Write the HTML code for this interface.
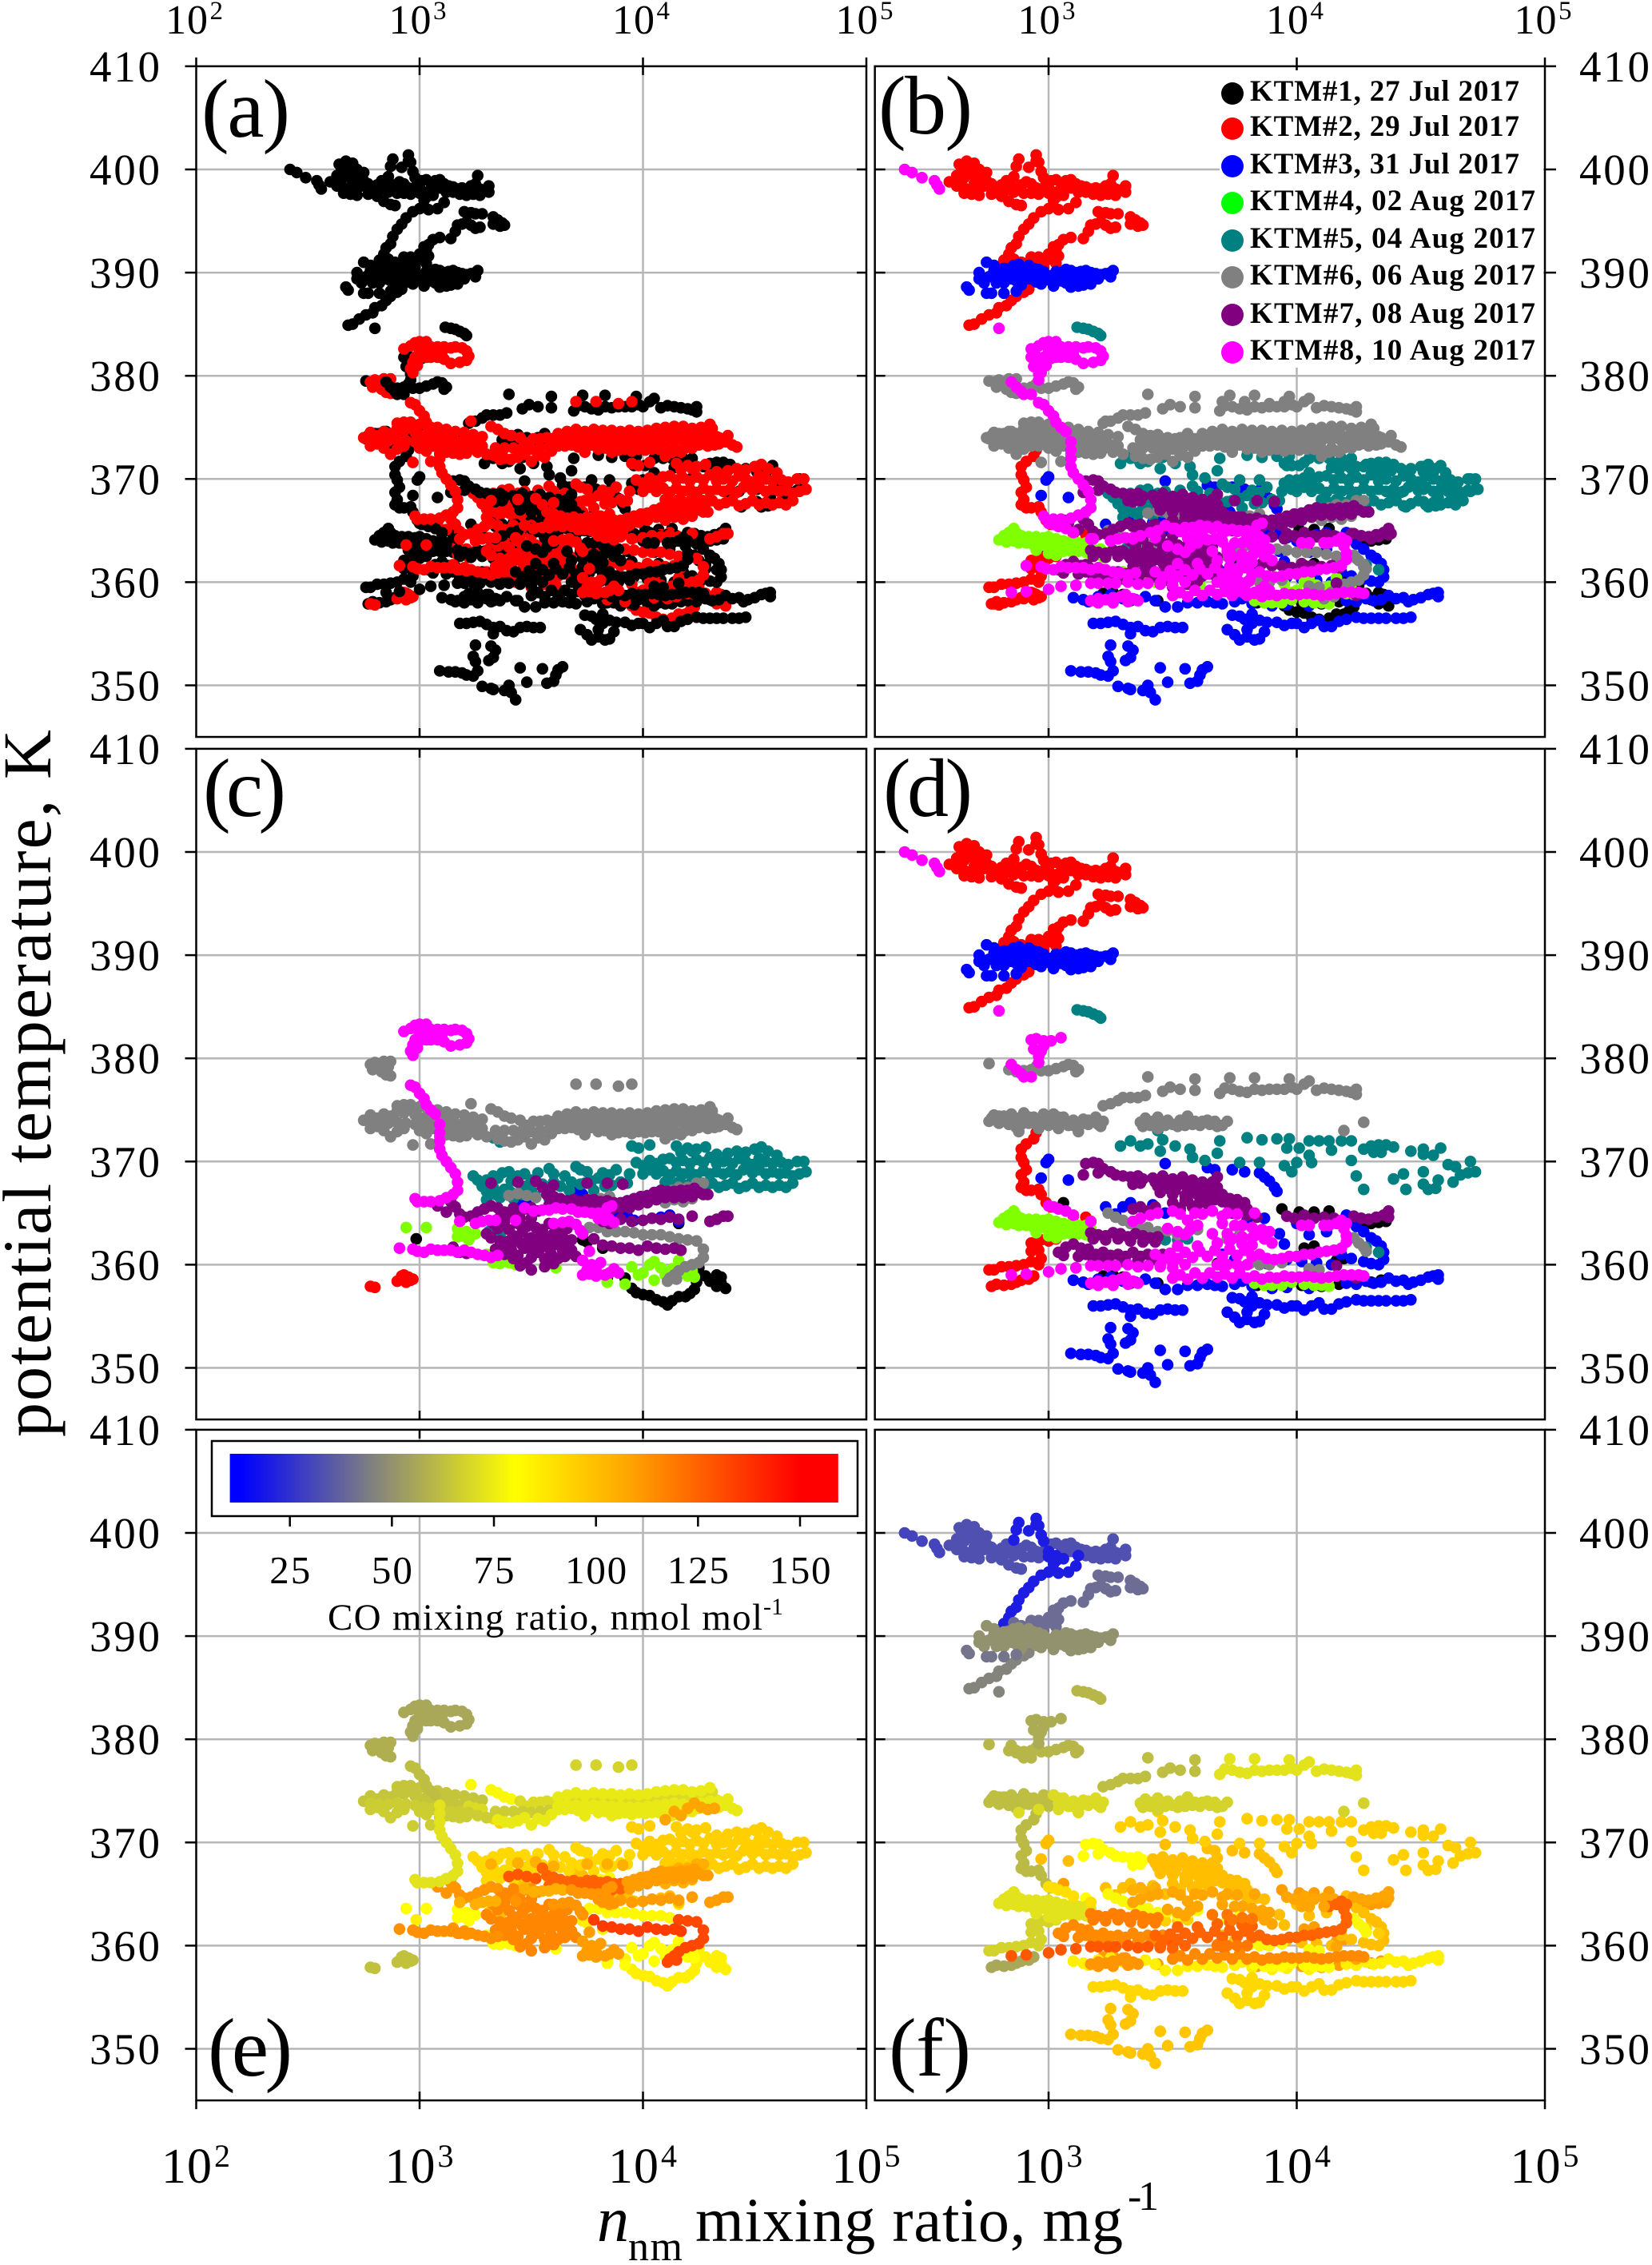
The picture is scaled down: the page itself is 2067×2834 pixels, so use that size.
<!DOCTYPE html>
<html lang="en">
<head>
<meta charset="utf-8">
<title>Nucleation-mode particle mixing ratio versus potential temperature</title>
<style>
html,body{margin:0;padding:0;background:#fff}
svg{display:block;font-family:"Liberation Serif",serif}
</style>
</head>
<body>
<svg id="chart" xmlns="http://www.w3.org/2000/svg" width="2067" height="2834" viewBox="0 0 2067 2834">
<defs><linearGradient id="coGradient" x1="0" x2="1" y1="0" y2="0"></linearGradient></defs>
<rect width="2067" height="2834" fill="#fff"/>
<g id="panels"></g>
<g id="axis-labels"></g>
<text transform="translate(63 1798) rotate(-90)" font-size="86" textLength="885" lengthAdjust="spacing" fill="#000">potential temperature, K</text>
<g fill="#000">
<text x="747" y="2804" font-size="80" font-style="italic" textLength="36">n</text>
<text x="786" y="2828" font-size="52" textLength="68">nm</text>
<text x="870" y="2804" font-size="78" textLength="535">mixing ratio, mg</text>
<text x="1411" y="2765" font-size="52" textLength="39">-1</text>
</g>
<g font-size="104" fill="#000">
<text x="252" y="171" textLength="111">(a)</text>
<text x="1099" y="167" textLength="118">(b)</text>
<text x="254" y="1021" textLength="104">(c)</text>
<text x="1105" y="1021" textLength="112">(d)</text>
<text x="260" y="2597" textLength="106">(e)</text>
<text x="1112" y="2597" textLength="103">(f)</text>
</g>
<g id="legend">
<rect x="1526" y="88" width="405" height="372" fill="#fff"/>
<g font-size="37" font-weight="bold" fill="#000">
<text x="1564" y="126" textLength="337">KTM#1, 27 Jul 2017</text>
<text x="1564" y="170" textLength="337">KTM#2, 29 Jul 2017</text>
<text x="1564" y="217" textLength="337">KTM#3, 31 Jul 2017</text>
<text x="1564" y="263" textLength="357">KTM#4, 02 Aug 2017</text>
<text x="1564" y="310" textLength="357">KTM#5, 04 Aug 2017</text>
<text x="1564" y="356" textLength="357">KTM#6, 06 Aug 2017</text>
<text x="1564" y="404" textLength="357">KTM#7, 08 Aug 2017</text>
<text x="1564" y="450" textLength="357">KTM#8, 10 Aug 2017</text>
</g>
<circle cx="1542" cy="117" r="14" fill="#000"/>
<circle cx="1542" cy="161" r="14" fill="#f00"/>
<circle cx="1542" cy="208" r="14" fill="#00f"/>
<circle cx="1542" cy="254" r="14" fill="#0f0"/>
<circle cx="1542" cy="301" r="14" fill="#008080"/>
<circle cx="1542" cy="347" r="14" fill="#808080"/>
<circle cx="1542" cy="394" r="14" fill="#800080"/>
<circle cx="1542" cy="441" r="14" fill="#f0f"/>
</g>
<g id="colorbar">
<rect x="265" y="1803" width="808" height="94" fill="#fff" stroke="#000" stroke-width="2.5"/>
<rect x="287.6" y="1819" width="761.2" height="61" fill="url(#coGradient)"/>
<g id="colorbar-ticks"></g>
<text x="410" y="2039" font-size="47" textLength="544" fill="#000">CO mixing ratio, nmol mol</text>
<text x="955" y="2020" font-size="30" textLength="25" fill="#000">-1</text>
</g>
</svg>
<script>
/* Axis values */
const thetaTicks = [350,360,370,380,390,400,410];
const xTickExponents = [2,3,4,5];
const coTicks = [25,50,75,100,125,150];
const coStops = [[10.3,0,0,255],[13,0,0,255],[45,128,128,128],[80,255,255,0],[108,255,165,0],[150,255,0,0],[159.3,255,0,0]];
const flightColors = ['#000000','#ff0000','#0000ff','#7fff00','#008080','#808080','#800080','#ff00ff'];

/* Each strand is [CO nmol/mol, [log10(n), theta, log10(n), theta, ...]] */
const groupDFlight1 = [[110,[3.06,366,3.94,365.4,4.01,365.1,4.07,365.1,4.13,365.2,4.24,364,4.27,363.9,4.3,364,4.33,364.1,4.36,364.2,4.03,361.6,4.07,361.8,4.16,360.4,4.19,360.6,3.68,360.1,3.22,358.9,3.26,359,3.3,358.8,3.33,358.2,3.44,358.2,4.34,358.5,4.3,358.3,3.84,358,3.9,358,3.96,357.9,4.02,358,4.1,357.9,4.17,358.1]]];
const groupDFlight2 = [
[33,[2.6,398.8,2.63,399.4,2.64,400.5,2.65,399.9,2.66,399.2,2.67,400.8,2.68,400.1,2.69,399.5,2.7,398.6,2.7,400.6,2.72,400,2.73,399.2,2.74,398.4,2.75,399.7,2.66,397.7,2.69,397.6,2.72,397.5,2.77,397.6,2.75,398.9,2.77,398.6,2.79,398.2,2.81,398.5,2.83,398.9,2.85,398.4,2.87,398.2,2.89,398.5,2.91,398.8,2.93,398.6,2.95,398.2,2.97,398.1,2.99,398.6,3.01,398.9,3.03,399,3.05,398.7,3.07,398.9,3.09,399,3.11,398.6,3.13,398.4,3.15,398.3,3.17,398.1,3.19,398.2,3.21,398.1,3.23,398.4,3.25,398.6,3.26,399.4,3.27,398.1,3.28,398,3.3,398,3.31,397.8,3.31,398.4,2.81,397.4,2.84,396.9,2.87,396.6,2.89,396.5,2.8,397.9,2.83,398,2.86,397.8,2.9,397.7,2.93,397.7,2.96,397.6,3.06,398.1,3.09,398.2,3.12,397.8,3.15,397.8,3.18,397.6,3.21,397.5,3.24,397.6,3.27,397.5,2.72,398.3,2.69,398.1,2.66,398.2,2.63,398.4]],
[20,[2.86,399.3,2.87,400.3,2.88,401,2.92,400.2,2.95,400.8,2.95,401.4,2.96,400.7,2.97,399.8,2.98,399.2,3,398.2,3,397.7,3.03,397.8,3.03,397.3,3.02,397,3,396.2,2.97,395.9,2.94,395.3,2.92,394.7,2.9,394.2,2.88,393.5,2.87,392.8,2.85,392.4,2.84,391.8,2.82,391.2,2.81,390.7,3.04,396.1,3.06,397.5,3.08,396.2,3.11,396.8,3.12,397.8]],
[40,[3.2,395.9,3.23,395.8,3.25,395.7,3.28,395.7,3.33,395.4,3.35,395.1,3.37,394.8,3.38,394.6,3.36,394.5,3.33,394.7,3.17,394.6,3.19,394.7,3.21,394.9,3.23,394.6,3.25,394.3,3.27,394.4,3.16,394,3.14,393.3,3.09,393.4,3.06,393.2,3.04,392.7,3.03,392.2,3.02,391.7,3,391.3,2.98,391.3,2.96,391,2.94,391.2,2.92,391,2.9,390.7,3.04,391.6,3.03,390.9,2.86,391.3,2.89,391,2.93,391.5,2.96,391.5,3,391.8,3.02,392.5,2.98,390.5,2.93,390.5,2.88,390.3,2.84,390.5]],
[46,[2.68,384.9,2.7,385,2.73,385.5,2.76,385.9,2.79,386.1,2.8,386.6,2.83,386.8,2.85,387.3,2.87,387.7,2.9,388.1,2.92,388.4]],
[61,[2.96,373.4,2.95,372.8,2.94,372.2,2.91,371.7,2.89,371.2,2.89,370.4,2.9,369.9,2.91,369.2,2.89,368.7,2.9,368,2.89,367.5,2.91,367.2,2.93,367.2,2.96,367.3,2.97,366.8,2.99,366,3.01,365.6]],
[80,[3.1,364.7,3.15,364.6,3.17,364.2]],
[68,[2.93,362.1,2.95,362.2,2.97,362.4,3,362.3,3.03,362.5,2.93,361.3,2.96,361.4,2.97,360.6,2.96,360,2.93,360.3,2.9,360,2.87,359.9,2.84,359.8,2.81,359.8,2.78,359.5,2.76,359.5]],
[56,[2.77,357.9,2.79,358.1,2.82,358,2.85,358.1,2.87,358.3,2.89,358.5,2.92,358.6,2.94,358.9]]
];
const groupDFlight3 = [
[50,[2.75,391,2.72,390,2.78,390.2,2.81,389.6,2.84,390.4,2.86,390.7,2.88,390.2,2.9,389.8,2.92,390.1,2.94,390.4,2.96,390.3,2.98,390.1,3,389.7,3.03,390.1,3.05,390,3.07,390.3,3.09,390.2,3.11,390,3.13,390.1,3.15,390.2,3.17,390,3.19,389.9,3.21,389.8,3.23,389.9,3.25,390,3.26,390.2,3.25,389.6,2.72,389.4,2.74,389,2.76,389.6,2.79,389,2.82,389,2.85,389.4,2.87,389.2,2.89,388.8,2.92,389.4,2.95,389.1,2.97,388.9,3,389.3,3.02,388.7,3.05,389.2,3.07,389,3.09,388.6,3.12,388.7,3.14,388.8,3.17,388.9,2.8,389.4,2.83,389.8,2.87,389.9,2.9,389.4,2.93,389.7,2.96,389.7,2.99,389.6,3.02,389.5,3.05,389.6,3.08,389.6,3.11,389.4,3.14,389.4,3.17,389.4,3.2,389.4,2.78,390.7,2.82,390.4,2.88,390.8,2.92,390.7]],
[42,[2.67,388.6,2.68,388.3,2.75,388,2.77,388,2.82,388,2.87,388.2]],
[100,[3,370.2,2.99,369.9,2.97,368.4,3.08,368.2,3.47,369.8,3.64,369.4,3.67,369.2,3.74,369.2,3.79,369,3.85,368.9,3.87,368.5,3.89,368.1,3.91,367.5,3.92,367.1]],
[100,[3.23,365.6,3.3,365.6,3.33,366,3.42,365.8,3.47,365,3.27,364.9,3.53,365.3,3.6,363.8,3.8,364.3,3.87,364.5,3.93,363,3.95,362,4,364,4.05,362.9,4.12,363.2,4.2,364.8,4.24,363.7,4.27,363.2,4.3,362.6,4.32,362.3,4.34,361.8,4.35,361.2,4.35,360.5,4.33,360,4.3,360.1,4.27,360.3,4.22,360.6,4.18,361,4.14,360,4.08,360.2,4.02,360.3,3.96,360.5,3.88,360.1,3.8,360,3.75,360.5,3.7,361]],
[85,[3.1,358.5,3.14,358.3,3.16,358.1,3.2,358.6,3.25,358.8,3.3,358.4,3.35,358.3,3.39,358.6,3.43,358.2,3.47,357.6,3.52,357.6,3.56,358,3.6,358,3.64,358.1,3.67,358,3.7,357.9,3.75,358.1,3.78,358.4,3.82,357.9,3.9,357.7,3.96,357.8,4.05,357.7,4.12,358,4.2,358.2,4.24,358.1,4.28,358.4,4.31,358.2,4.34,358.3,4.37,358.7,4.4,358.4,4.43,358.5,4.45,358.1,4.47,358.3,4.5,358.5,4.53,358.8,4.55,358.9,4.57,359,4.57,358.6]],
[92,[3.18,356,3.21,356,3.24,356.1,3.27,356.2,3.3,355.9,3.33,355.6,3.33,355,3.36,355.7,3.39,355.3,3.42,355.2,3.45,355.6,3.48,355.7,3.51,355.6,3.54,355.6,3.72,355.4,3.75,354.9,3.77,354.4,3.8,354.7,3.83,354.4,3.85,354.5,3.8,355.4,3.82,356,3.79,356.4,3.77,356.7,3.74,356.8,3.82,356.9,3.85,356.3,3.88,356.1,3.92,356.1,3.95,355.8,3.98,356,4,356,4.03,355.6,4.06,356,4.09,356.3,4.11,355.7,4.14,355.7,4.17,356.2,4.2,356.4,4.24,356.6,4.27,356.5,4.3,356.5,4.33,356.5,4.36,356.5,4.4,356.5,4.43,356.5,4.46,356.6,3.87,355.2]],
[98,[3.09,351.4,3.13,351.3,3.16,351.3,3.19,351.2,3.21,351,3.24,350.9,3.26,351.4,3.25,352.3,3.24,352.8,3.25,353.9,3.32,353.8,3.34,353.4,3.33,352.7,3.31,352.4,3.28,349.9,3.32,349.7,3.33,349.6,3.38,349.5,3.4,350,3.41,349.3,3.43,348.6,3.45,351.7,3.48,350.3,3.55,351.6,3.57,350.2,3.6,350.4,3.61,351,3.62,351.5,3.64,351.8]]
];
const groupDFlight4 = [
[72,[2.8,364.1,2.82,364.5,2.84,364.8,2.86,365.2,2.87,364.8,2.83,363.9,2.86,364,2.89,364.5,2.92,364.4,2.95,364.4,2.98,364.3,3,364.4,3.03,364.2,3.06,364,3.09,363.9,3.12,363.8,3.15,363.8,3.17,363.5,2.88,363.8,2.91,363.8,2.94,363.6,2.97,363.6,3,363.5,3.03,363.2,3.06,363,3.09,363,3.12,363,3.15,362.9,3.17,362.7,2.95,363.1,3,362.8,3.03,362.6,2.9,364.1,2.96,364,3.02,363.8,3.08,363.5,3.14,363.3]],
[80,[3.83,358.2,3.87,358,3.9,358,3.94,358,3.98,358.3,4.03,358.1,4.07,358,4.1,358,4.13,357.9]]
];
const groupDFlight5 = [
[60,[3.115,384.7,3.14,384.6,3.16,384.5,3.18,384.3,3.2,384.1,3.21,383.9]],
[95,[3.29,371.5,3.33,372,3.37,371.5,3.4,371.7,3.44,373,3.46,372.1,3.45,371,3.51,371.5,3.57,371.2,3.58,370.4,3.63,370.1,3.69,372,3.68,370.8,3.8,372.3,3.86,372.1,3.92,372.2,3.97,372.2,3.96,371.3,4.01,371.3,4.05,370.6,4,369.9,4.06,369.9,4.05,372,4.09,372,4.13,372,4.18,372,4.22,372,4.14,371.1,4.22,370.1,4.27,371.2,4.3,371.5,4.33,371.6,4.36,371.6,4.39,371.4,4.31,370.9,4.34,370.9,4.46,371,4.51,371.2,4.58,371.3,4.51,370.7,4.55,370.6,4.61,369.7,4.64,369.5,4.7,370,4.72,369,4.69,368.9,4.66,368.7,4.63,368,4.51,369,4.51,367.8,4.53,367.3,4.57,368.2,4.56,367.4,4.39,368.3,4.43,368.8,4.44,367.3,4.24,368.6,4.27,367.3,3.77,369.9,3.85,369.9,3.95,369.6,3.98,369]],
[95,[3.43,362.6,3.47,362.4,3.52,362.4,3.56,362.5,4.33,361.2,4.28,361.7]]
];
const groupDFlight6 = [
[60,[2.76,379.5,2.84,378.9,2.87,378.7,2.9,378.8,2.93,378.9,2.95,379.2,2.97,378.8,3,378.8,3.03,379,3.06,379.2,3.08,379.4,3.1,379.3,3.12,378.9,3.11,378.7]],
[62,[3.22,375.4,3.25,375.6,3.28,375.9,3.3,376.2,3.33,376.2,3.36,376.2,3.39,376.4,3.4,378.2,3.46,376.8,3.49,377.2,3.53,377,3.59,378,3.59,376.9]],
[72,[3.69,376.6,3.71,377.1,3.73,378.1,3.74,377,3.77,376.8,3.8,376.7,3.83,378.1,3.83,377,3.86,376.9,3.89,377,3.92,377,3.95,377,3.97,378,3.98,377.2,4,377,4.03,377.5,4.05,377.8,4.08,376.9,4.11,377.1,4.14,377,4.17,376.9,4.2,376.8,4.22,376.7,4.24,377,4.24,376.5]],
[62,[2.76,373.9,2.78,374.5,2.8,373.7,2.82,374.4,2.84,373.6,2.85,374.6,2.87,373.3,2.88,374.2,2.9,374.7,2.92,373.7,2.94,374.3,2.96,373.9,2.98,374.6,3,373.5,2.77,374.2,2.8,374.4,2.83,374,2.86,374,2.89,373.6,2.92,374.3,2.95,373.6,2.98,374,3.01,374]],
[70,[3.02,374.6,3.04,373.8,3.06,374.3,3.08,373.5,3.1,374,3.12,373.3,3.14,374.1,3.16,373.6,3.18,374,3.2,373.6,3.22,373.9,2.88,372.9,2.96,373.2,3.04,373.2,3.12,372.9,3.04,374.3,3.07,373.8,3.1,373.5,3.13,373.6,3.16,374,3.19,374.3,3.21,373.4]],
[68,[3.37,373.8,3.39,374.2,3.42,373.9,3.44,374.3,3.47,373.5,3.5,373.6,3.53,374,3.56,374.4,3.59,373.9,3.62,373.9,3.65,373.6,3.68,373.4,3.72,373.9,3.44,373.2,4.19,373,4.27,373.8,3.38,373.4,3.41,373.5,3.45,373.8,3.48,374,3.52,373.4,3.55,373.5,3.58,373.6,3.61,373.5,3.64,374,3.67,373.9,3.7,373.5]],
[78,[3.24,365,3.27,364.6,3.3,364.3,3.33,364,3.36,363.7,3.4,363.6,3.44,363.2,3.48,363.3,3.52,362.9,3.56,363.1,3.6,363.4,3.77,362.9,3.72,362.5,3.81,360.1,3.85,360,3.89,360,3.94,360.2,4.05,359.6,4.09,359.5,4.23,362.6,4.25,362.1,4.27,361.7,4.28,361.3]]
];
const groupDFlight7 = [
[80,[3.15,369.8,3.18,369.9,3.2,369.8,3.22,369.3,3.25,369,3.27,368.7,3.3,368.6,3.33,368.5,3.36,368.6,3.38,368.3,3.37,367.9,3.34,367.8,3.14,368.7,3.2,368.9]],
[100,[3.42,368.4,3.44,367.6,3.46,368.6,3.48,367.4,3.5,368.3,3.52,367.7,3.54,368.5,3.56,367.2,3.58,368.2,3.6,367.6,3.62,368,3.64,367.5,3.66,368,3.68,368.5,3.68,367.5,3.45,367,3.5,366.8,3.55,366.7,3.6,366.8,3.65,367,3.5,366,3.53,365.5,3.56,366.2,3.6,365.8,3.64,365.9,3.67,366.3,3.7,366.1,3.73,365.7,3.76,365.6,3.79,366,3.8,365.4,3.8,364.8,3.74,365,3.84,364.6,3.43,368,3.45,368.2,3.47,367.9,3.49,367.9,3.51,367.2,3.53,368,3.55,368.1,3.57,367.7,3.59,367,3.61,367.2,3.63,367.1,3.65,367.6,3.67,367.2,3.55,366.2,3.58,365.6,3.62,366.2,3.66,366.6,3.7,366.8,3.73,366.4,3.76,366.3]],
[105,[3.34,365.4,3.37,365.6,3.4,365.2,3.43,365.6]],
[118,[3.17,363.1,3.2,362.9,3.23,362.8,3.26,363.1,3.29,363,3.32,362.7,3.35,363,3.38,362.8,3.41,362.6,3.44,362.7,3.18,362.5,3.23,362.4,3.28,362.5,3.33,362.3,3.38,362.2,3.43,362.2]],
[115,[3.04,361.2,3.07,361.7,3.1,362,3.13,361.6,3.16,361.5,3.19,361,3.22,361.2,3.25,360.9,3.28,361,3.31,360.8,3.34,361.2,3.37,360.8,3.4,361,3.43,360.9,3.46,361,3.06,360.9,3.12,360.8,3.18,360.4,3.24,360.4,3.3,360.3,3.36,360.4,3.42,360.5,3.15,361,3.22,360.6]],
[108,[3.96,364.7,3.99,364.5,4.03,364.8,4.07,364.5,4.11,364.6,4.15,364.5,4.23,364.7,4.26,364.5,4.29,364.4,4.32,364.6,4.35,364.8,4.37,365.2,4.37,364.6,4.16,359.9,4.24,358.7]]
];
const groupDFlight8 = [
[30,[2.42,400,2.45,399.7,2.49,399.2,2.54,398.9,2.55,398.5,2.56,398.1]],
[46,[2.8,384.6]],
[57,[2.93,381.8,2.95,381.9,2.98,381.7,3.01,381.7,3.05,382,2.94,380.9,2.97,380.7,2.98,381.2,2.96,380.2,2.96,379.6]],
[60,[2.85,379.4,2.87,378.9,2.89,378.5,2.9,378.2,2.93,378.2]],
[90,[3,365.7,3.02,365.6,3.04,365.4,3.07,365.2,3.1,364.8,3.17,364.2]],
[128,[2.85,359,2.91,359.1,3,359.3,3.05,359.6,3.11,359.7,3.17,359.9,3.2,359.9,3.24,359.9,3.27,359.9,3.32,360,3.36,359.8,3.4,359.9,3.45,359.9,3.5,360.2]],
[112,[3.17,358.2,3.2,358.4,3.23,358.3,3.26,358.5,3.29,358.6,3.31,358.8,3.34,358.4,3.36,358.2,3.2,358,3.26,358,3.32,358.1]],
[125,[3.43,361,3.46,360.5,3.49,361.1,3.52,360.6,3.55,361.2,3.58,360.7,3.61,361.3,3.64,360.8,3.67,361.4,3.7,360.8,3.73,361.5,3.76,360.9,3.79,361.4,3.82,360.8,3.85,361,3.88,360.6,3.91,360.5,3.94,360.6,3.97,360.8,4,360.8,4.03,361,4.06,361,4.09,361.2,4.12,361.3,4.15,361.4,4.18,361.6,4.2,362.2,4.2,362.8,4.19,363.5,4.2,364,4.18,364.3,4.16,364,4.13,363.8,3.52,361.8,3.6,361.8,3.68,362.1,3.73,362.3,3.78,362,3.82,361.9,3.45,359.8,3.5,359.7,3.55,360]],
[115,[3.5,358.7,3.53,359,3.56,358.6,3.59,359.2,3.62,358.7,3.65,359.2,3.68,358.8,3.71,359.1,3.74,358.7,3.77,359.2,3.8,358.7,3.83,358.9,3.86,358.6,3.89,358.8,3.92,358.7,3.95,358.9,3.98,358.8,4.01,358.8,4.04,358.9,4.07,358.8,4.1,358.7,4.13,358.8,4.16,358.9,4.19,359,4.22,359,4.25,359,4.27,358.9]],
[108,[3.34,364.2,3.37,364.5,3.41,364.8,3.44,365,3.5,365.2,3.53,364.9,3.56,364.3,3.59,365,3.62,364.9,3.66,365.2,3.7,364.7,3.72,365,3.76,364.9,3.83,365,3.52,363.2,3.55,362.9,3.57,363.4,3.48,363.5,3.6,363.8,3.7,364,3.75,363.8,3.78,363.8,3.82,363.6,3.86,363.4,3.89,363.2,3.83,362.8,3.87,362.5,3.9,362.1,4.02,363.8,4.05,363.8,4.11,363.8]],
[120,[3.68,360,3.72,360,3.76,360,3.8,360,3.7,359.9,3.74,362.5,3.78,362.7,3.82,362.6,3.72,363,3.66,363]]
];

const groupCFlight1 = [[85,[2.985,362.5,3.73,362.4,3.75,362.2,3.82,361.6,3.84,358.7,3.92,358.7,3.95,357.7,3.97,357.3,4,357.1,4.03,357,4.06,356.6,4.09,356.4,4.11,356.1,4.13,356.5,4.16,356.9,4.19,356.9,4.21,357.2,4.23,357.6,4.24,358.3,4.25,359,4.25,359.7,4.28,358.9,4.31,358.5,4.33,359,4.35,358.8,4.35,358.2,4.37,357.7,4.33,357.9,4.3,358.4,4.16,364]]];
const groupCFlight2 = [[63,[2.78,357.9,2.8,357.8,2.9,358.4,2.92,358.9,2.93,359,2.95,358.8,2.96,358.5,2.97,358.6,2.94,358.3]]];
const groupCFlight3 = [[100,[3.45,366,3.47,365.5,3.49,365.7,3.7,367,3.73,366.8,3.88,364.8,3.93,364.7,3.96,364.3,4.08,364.6,4.12,364.8,4.16,364.2]]];
const groupCFlight4 = [[80,[2.94,363.6,3.03,363.6,3.17,363.5,3.19,362.8,3.21,363.2,3.17,362.7,3.22,362.4,3.25,363,3.3,361,3.33,360.2,3.36,360.1,3.4,360.2,3.43,360,3.46,360.1,3.56,359.9,3.61,359.7,3.84,358.3,3.92,358.1,3.95,359.8,3.98,359,4,359.2,4.03,360,4.05,360.3,4.08,359.7,4.1,359,4.13,359.6,4.16,360.4,4.18,359.3,4.2,358.9,4.22,359.4,4.23,358.8,4.05,358.5]]];
const groupCFlight5 = [
[95,[3.33,372.3,3.36,371.9,3.95,371.5,3.98,371.3,4.03,371.6,4.15,371.5,4.2,371.3,4.24,371.2,4.17,370.9,4.22,371,4.28,371.4,4.33,370.7,4.38,370.8,4.42,371,4.46,370.9,4.5,371.2,4.53,371.4,4.56,371,4.6,370.6,3.97,369.9,4,369.6,4.03,370.1,4.06,369.8,4.09,370.2,4.12,370.3,4.15,369.9,4.18,370.1,4.21,369.8,4.24,370.2,4.27,369.9,4.3,370.4,4.33,369.8,4.36,370,4.4,369.8,4.43,370.3,4.46,370,4.49,369.7,4.52,370.3,4.55,370,4.58,369.8,4.62,369.9,4.65,369.7,4.69,370,4.72,370,4,368.8,4.03,369.2,4.06,368.8,4.09,369.1,4.12,368.7,4.15,369.1,4.18,368.8,4.21,369,4.24,368.7,4.27,369.1,4.3,368.8,4.33,369,4.36,368.8,4.39,369,4.42,368.7,4.45,369.2,4.49,368.9,4.52,369.2,4.55,368.8,4.58,369,4.61,368.8,4.64,368.9,4.67,368.6,4.7,368.8,4.73,369,4.1,368,4.13,367.7,4.16,368,4.19,367.7,4.22,368.1,4.25,367.7,4.28,367.6,4.31,367.9,4.34,367.5,4.37,367.7,4.4,367.9,4.43,367.4,4.46,367.6,4.49,367.9,4.52,367.5,4.55,367.7,4.58,367.5,4.61,367.7,4.64,367.5,4.67,367.9]],
[92,[3.24,368.6,3.26,368.2,3.28,367.6,3.3,367.1,3.33,367.5,3.35,368.4,3.37,368.9,3.38,367.3,3.41,368.1,3.41,367,3.44,368.6,3.47,367.6,3.5,368.2,3.53,368.9,3.55,367.8,3.58,369.3,3.6,368,3.63,367.6,3.65,368.6,3.68,368,3.7,369.5,3.72,369.2,3.75,369,3.74,367.9,3.77,368.1,3.8,368.4,3.83,367.6,3.85,368.7,3.88,369.2,3.9,368,3.93,367.9,3.36,366.5,3.3,366.3,3.3,368.2,3.33,368.6,3.4,369,3.47,368.8,3.5,367.2,3.57,367.2,3.6,368.8,3.67,367.2,3.72,367.8,3.78,367.2,3.82,368.9,3.86,367.7,3.94,368.8,3.34,366.8,3.42,366.4,3.46,366.8,3.52,366.6,3.58,366.4]],
[100,[3.31,363.2,3.34,363.5,3.36,362.8]]
];
const groupCFlight6 = [
[58,[2.78,379.4,2.8,379.6,2.82,379.2,2.84,379.7,2.86,379.2,2.87,379.7,2.79,378.9,2.83,378.7,2.85,378.4,2.87,378.3]],
[68,[3.7,377.5,3.79,377.5,3.89,377.3,3.95,377.5]],
[78,[3.23,375.6,3.32,375.1,3.35,374.8,3.38,374.4,3.41,374.2]],
[64,[2.75,374,2.78,374.5,2.81,374.2,2.84,374.6,2.87,374.4,2.9,374.9,2.93,374.7,2.96,375,2.98,374.5,3.01,374.2,3.04,373.9,3.07,373.9,3.1,374.6,3.13,373.8,3.16,373.7,3.19,373.6,2.9,375.4,2.93,375.5,2.96,375.5,3,375.3,3.04,374.9,3.08,375,3.12,374.8,3.16,374.6,3.2,374.5,3.24,374.3,3.28,374.1]],
[70,[3.22,373.5,3.25,373.3,3.28,373.2,3.45,374,3.48,373.5,3.51,373.9,3.54,373.9,3.57,374,3.6,373.9,3.63,373.8,3.66,374,3.69,374.1,3.72,374,3.75,374.1,3.78,374.2,3.81,374.1,3.84,374.1,3.87,374,3.9,374,3.93,374.1,3.96,373.9,3.99,373.9,4.02,374.1,4.05,374.3,4.08,374.3,4.11,374.4,4.14,374.6,4.17,374.5,4.2,374.1,4.23,374.2,4.26,374.4,4.29,374.5,4.31,374.9,4.33,374.1]],
[66,[2.78,373.2,2.81,373.4,2.84,373,2.87,372.4,2.9,372.9,2.93,373.2,2.97,371.6,3.05,371.7,3,373,3.03,372.7,3.06,373.2,3.09,372.4,3.12,372.6,3.15,372.5,3.18,372.4,3.21,372.5,2.78,373.8,2.82,373.7,2.86,373.7,2.9,373.8,2.94,373.7,2.98,373.6,3.02,373.4,3.06,373.3,3.1,373.2,3.14,373,3.18,373,3.22,372.9,3.26,372.6,3.3,372.4,3.34,373,3.38,373,3.42,373,3.46,373,3.5,372.9,3.54,373,3.58,373.1]],
[74,[3.35,372.2,3.38,372,3.41,371.9,3.44,372.1,3.47,372.4,3.5,371.7,3.53,372.3,3.56,372.1,3.59,372.7,3.62,373.2,3.65,373.2,3.68,373.3,3.71,373.1,3.74,372.6,3.77,373.3,3.8,372.9,3.83,373,3.86,372.6,3.89,372.8,3.92,372.9,3.95,372.7,3.98,372.9,4.01,372.8,4.04,372.9,4.07,372.9,4.1,372.9,4.13,372.6,4.16,372.7,4.19,373,4.22,373,4.25,373.3,4.28,373.6,4.31,373.5,4.34,373.4,4.37,373.6,4.4,373.3,4.42,373.1,3.62,374.4,3.66,374.6,3.7,374.8,3.74,374.6,3.78,374.8,3.82,374.7,3.86,374.7,3.9,374.6,3.94,374.7,3.98,374.6,4.02,374.7,4.06,374.9,4.1,375,4.14,375.1,4.18,375.1,4.22,374.9,4.26,375,4.3,375.3,3.62,373.5,3.66,373.6,3.7,373.6,3.74,373.6,3.78,373.6,3.82,373.6,3.86,373.5,3.9,373.5,3.94,373.4,3.98,373.4,4.02,373.5,4.06,373.6,4.1,373.7,4.14,373.8,4.18,373.7,4.22,373.6,4.26,373.8,4.3,374,4.34,374,4.38,374.2]],
[108,[4.1,372.2,4.14,373,4.17,372.6,4.2,373.3,4.23,373.8,4.26,373.4,4.29,373.2,4.32,373.3]],
[128,[3.4,366.7,3.44,366.9,3.48,366.7,3.52,366.5]],
[82,[3.76,363.6,3.8,363.6,3.84,363.2,3.88,363.2,3.92,363.2,3.96,363.1,4,362.9,4.04,362.9,4.08,362.9,4.12,362.7,3.85,366.6,3.81,366.4]],
[132,[4.16,362.5,4.2,362.4,4.24,362.3,4.27,361.5,4.27,360.7,4.25,360.2,4.22,360,4.19,359.8,4.16,359.4,4.14,359,4.12,358.7,4.11,358.4,4.15,358.6]],
[105,[4.13,367.2,4.16,367.5,4.2,367.5,4.24,367.9,4.27,367.9,4.1,366,4.14,366.3,4.18,366.1,4.22,366.4]]
];
const groupCFlight7 = [
[112,[3.08,365.7,3.12,365.1,3.18,364.9,3.2,364.6,3.23,364.7,3.26,365.1,3.29,365.4,3.32,365.7,3.35,365.5,3.38,365.1,3.41,364.8,3.44,365,3.47,365.4,3.5,365.5,3.53,365.2]],
[116,[3.3,363,3.32,362.6,3.35,363.5,3.36,362.3,3.38,364.2,3.4,363.4,3.42,362.8,3.44,364,3.46,363.2,3.48,362.2,3.5,364.5,3.52,363.6,3.54,362.7,3.56,361.8,3.58,364,3.6,363,3.62,362.3,3.64,361.4,3.66,363.5,3.68,362.4,3.41,361.5,3.44,360.9,3.47,361.6,3.5,360.7,3.53,361.2,3.56,360.6,3.59,361,3.62,360.6,3.65,360.8,3.45,359.9,3.5,359.5,3.33,364,3.36,364.6,3.39,365,3.42,365.5,3.45,364.5,3.48,363.7,3.5,362.6,3.52,362,3.55,363.4,3.58,362.7,3.6,361.9,3.62,363.6,3.64,362.7,3.66,362.2,3.66,361,3.68,361.4,3.7,360.8,3.38,361.9,3.34,361.5,3.4,362.3,3.44,362.3,3.46,361.9,3.5,361.5,3.54,361.6,3.58,361.6,3.56,359.8,3.6,360.1,3.48,360.2,3.42,360.6,3.38,361]],
[105,[3.32,367.9,3.44,368,3.52,368.1,3.6,367.7,3.75,367.9,3.84,367.9,3.91,367.8]],
[125,[3.55,367.5,3.57,366.8,3.6,366.6,3.63,366.4,3.66,366.2,3.69,366.3,3.72,366.1,3.75,366.3,3.78,366.3,3.81,366.1,3.84,366.2,3.87,366,3.9,366,3.58,365.8,3.62,365.6,3.66,365.8,3.7,365.7,3.74,365.7,3.78,365.7,3.82,365.5,3.86,365.4,3.9,365.5]],
[110,[3.93,366.2,3.96,366.4,3.99,366.6,4.02,366.7,4.05,367,4.08,367.2,4.11,367.1,4.14,367.1,4.17,367.2,4.2,367.2,4.23,367.4,4.25,367,4.27,366.8,4.29,366.8,3.94,365.5,3.98,365.8,4.02,366,4.06,366.3,4.1,366.5,4.14,366.5,4.18,366.5,4.22,366.6]],
[110,[3.82,364.2,3.85,364,3.9,364.4,3.95,364.2,4,364.3,4.04,364.5,4.08,364.4,4.12,364.6,4.16,364.4,4.22,364.7,4.3,364.2,4.33,364.4,4.36,364.7,4.38,364.7]],
[112,[3.15,361.7,3.18,361.2,3.21,361.1,3.14,366.1,3.16,365.6]],
[135,[3.73,363,3.78,362.5,3.82,361.9,3.86,361.8,3.9,361.6,3.94,361.6,3.98,361.4,4.02,361.8,4.06,361.6,4.1,361.5,4.14,361.6,4.17,361.4]]
];
const groupCFlight8 = [
[56,[2.93,382.6,2.96,382.9,2.98,383.2,3,383.3,3.03,383.3,3.05,382.8,3.08,382.8,3.11,382.8,3.14,382.7,3.16,382.8,3.19,382.7,3.21,382.4,3.22,381.9,3.21,381.5,3.18,381.3,3.14,381.2,3.11,381.6,3.08,381.8,3.05,381.8,3.03,381.8,3,381.7,2.98,381.8,2.97,381.3,2.96,380.7,2.97,380.3,2.99,381,3.02,382.4,3.06,382.3,3.1,382.3,3,382.4]],
[62,[2.96,377.4,2.98,377.2,3,376.6,3.02,376.1,3.03,375.5,3.05,375,3.07,374.6]],
[72,[3.09,373.6,3.09,372.8,3.09,372,3.09,371.2,3.1,370.6,3.12,370,3.14,369.4,3.16,368.8,3.17,368,3.17,367.2,3.15,366.8,3.12,366.5,3.09,366.2,3.05,366.1,3.02,366.1,2.99,366.1,2.98,366.4]],
[105,[3.18,364.2,3.25,364,3.28,364.2,3.31,364.3,3.34,364.3,3.47,365.5,3.51,365.2,3.55,365.3,3.58,365.3,3.61,365.5,3.64,365.4]],
[112,[3.68,365.4,3.71,365.1,3.74,365.1,3.77,365,3.8,365,3.83,365,3.85,364.4,3.84,365.5,3.86,365.7,3.87,364.1,3.6,364,3.64,364.1,3.67,364.2,3.7,363.9,3.72,363.3,3.73,363,3.43,364.3,3.8,364.5,3.83,364.3]],
[113,[2.91,361.6,2.97,361.5,2.99,361.3,3.02,361.2,3.05,361.5,3.08,361.4,3.11,361.4,3.14,361.4,3.17,361.2,3.2,361.4,3.23,361.2,3.26,361,3.29,360.9,3.32,360.7,3.35,360.9]],
[110,[3.73,360.4,3.76,361.3,3.77,360,3.75,359.5,3.73,359,3.76,359.1,3.79,359.4,3.81,360.2,3.83,359,3.85,359.2,3.87,359.6,3.89,359.2,3.79,358.9]]
];

const groupC = [groupCFlight1,groupCFlight2,groupCFlight3,groupCFlight4,groupCFlight5,groupCFlight6,groupCFlight7,groupCFlight8];
const groupD = [groupDFlight1,groupDFlight2,groupDFlight3,groupDFlight4,groupDFlight5,groupDFlight6,groupDFlight7,groupDFlight8];

const NS = 'http://www.w3.org/2000/svg';
const columns = {left:{origin:525,decade:279.5,exponents:[2,3,4,5]},right:{origin:1312,decade:310.5,exponents:[3,4,5]}};
const rows = [{y400:212},{y400:1066},{y400:1918}];
const KELVIN_PX = 12.91;
const xScale = (col,logN) => col.origin + col.decade*(logN-3);
const yScale = (row,theta) => row.y400 + (400-theta)*KELVIN_PX;
const coScale = v => 362.7 + (v-25)*5.1064;

function coColor(v){
  let i = 0;
  while(i < coStops.length-2 && v > coStops[i+1][0]) i++;
  const a = coStops[i], b = coStops[i+1];
  const t = Math.max(0,Math.min(1,(v-a[0])/(b[0]-a[0])));
  const c = [1,2,3].map(k => Math.round(a[k]+(b[k]-a[k])*t));
  return 'rgb('+c.join(',')+')';
}
function make(parent,tag,attrs){
  const el = document.createElementNS(NS,tag);
  for(const k in attrs) el.setAttribute(k,attrs[k]);
  parent.appendChild(el);
  return el;
}
function line(parent,name,x1,y1,x2,y2,stroke,w){
  const el = make(parent,'line',{x1,y1,x2,y2,stroke,'stroke-width':w});
  
  
  return el;
}
function label(parent,name,txt,x,y,size,len){
  const el = make(parent,'text',{x,y,'font-size':size,textLength:len,fill:'#000'});
  
  
  el.textContent = txt;
  return el;
}

/* colour ramp */
const gradient = document.getElementById('coGradient');
coStops.forEach(s => {
  make(gradient,'stop',{offset:(s[0]-10.3)/149,'stop-color':'rgb('+s[1]+','+s[2]+','+s[3]+')'});
});

function drawStrands(parent,col,row,strands,flightIndex,colorOf){
  strands.forEach(strand => {
    const co = strand[0], pts = strand[1];
    for(let i=0;i+1<pts.length;i+=2){
      const dot = make(parent,'circle',{cx:xScale(col,pts[i]).toFixed(1),cy:yScale(row,pts[i+1]).toFixed(1),r:7.3,fill:colorOf(flightIndex,co)});
      
      
    }
  });
}

const panelSpecs = [
 {name:'panel-a',col:columns.left,row:rows[0],layers:[[groupD,()=>'#000000'],[groupC,()=>'#ff0000']]},
 {name:'panel-b',col:columns.right,row:rows[0],layers:[[groupD,f=>flightColors[f]],[groupC,f=>flightColors[f]]]},
 {name:'panel-c',col:columns.left,row:rows[1],layers:[[groupC,f=>flightColors[f]]]},
 {name:'panel-d',col:columns.right,row:rows[1],layers:[[groupD,f=>flightColors[f]]]},
 {name:'panel-e',col:columns.left,row:rows[2],layers:[[groupC,(f,co)=>coColor(co)]]},
 {name:'panel-f',col:columns.right,row:rows[2],layers:[[groupD,(f,co)=>coColor(co)]]}
];

const panelsRoot = document.getElementById('panels');
const labelsRoot = document.getElementById('axis-labels');
const GRID = '#b6b6b6';

panelSpecs.forEach(spec => {
  const col = spec.col, row = spec.row;
  const isLeft = col === columns.left;
  const x0 = isLeft ? xScale(col,2) : xScale(col,2.3);
  const x1 = xScale(col,5);
  const yTop = yScale(row,410), yBot = yScale(row,345);
  const g = make(panelsRoot,'g',{});
  
  

  thetaTicks.filter(t => t < 410).forEach(t => {
    line(g,'y-gridline',x0,yScale(row,t),x1,yScale(row,t),GRID,2.5);
  });
  xTickExponents.filter(e => e === 3 || e === 4).forEach(e => {
    line(g,'x-gridline',xScale(col,e),yTop,xScale(col,e),yBot,GRID,2.5);
  });

  for(let f=0;f<8;f++){
    spec.layers.forEach(layer => {
      drawStrands(g,col,row,layer[0][f],f,layer[1]);
    });
  }

  thetaTicks.forEach(t => {
    const y = yScale(row,t);
    if(isLeft){
      line(g,'y-tick',x0-14,y,x0,y,'#000',2.5);
      if(t<410) line(g,'y-tick-inner',x1-12,y,x1,y,'#000',2.5);
    } else {
      line(g,'y-tick',x1,y,x1+14,y,'#000',2.5);
      if(t<410) line(g,'y-tick-inner',x0,y,x0+13,y,'#000',2.5);
    }
    const lx = isLeft ? 112 : 1976;
    label(labelsRoot,'y-tick-label',String(t),lx,y+19,55,88);
  });

  xTickExponents.filter(e => e === 3 || e === 4).forEach(e => {
    const x = xScale(col,e);
    line(g,'x-tick-inner',x,yTop,x,yTop+11,'#000',2.5);
    line(g,'x-tick-inner',x,yBot-11,x,yBot,'#000',2.5);
  });

  col.exponents.forEach(e => {
    const x = xScale(col,e);
    if(row === rows[0]){
      line(g,'x-tick-top',x,yTop-11,x,yTop,'#000',2.5);
      label(labelsRoot,'x-tick-label-top','10',x-38.5,42,52,53);
      label(labelsRoot,'x-tick-exponent-top',String(e),x+17,24,33,20);
    }
    if(row === rows[2]){
      line(g,'x-tick-bottom',x,yBot,x,yBot+11,'#000',2.5);
      label(labelsRoot,'x-tick-label-bottom','10',x-43.5,2731,62,63);
      label(labelsRoot,'x-tick-exponent-bottom',String(e),x+22.5,2711,40,22);
    }
  });

  const frame = make(g,'rect',{x:x0,y:yTop,width:x1-x0,height:yBot-yTop,fill:'none',stroke:'#000','stroke-width':2.5});
  
  
});

const cbTicks = document.getElementById('colorbar-ticks');
coTicks.forEach(v => {
  const x = coScale(v);
  line(cbTicks,'colorbar-tick',x,1897,x,1910,'#000',2.5);
  const w = v < 100 ? 51 : 77;
  label(cbTicks,'colorbar-tick-label',String(v),x-w/2,1981,49,w);
});

/* keep legend and colorbar above plotted panels */
const svg = document.getElementById('chart');
svg.appendChild(document.getElementById('legend'));
svg.appendChild(document.getElementById('colorbar'));
</script>
</body>
</html>
